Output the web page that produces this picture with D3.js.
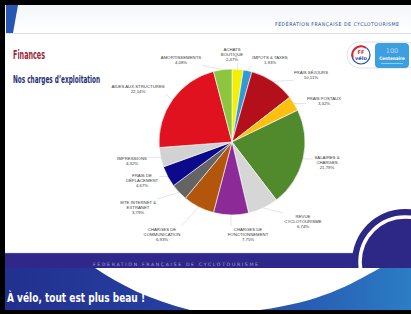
<!DOCTYPE html>
<html>
<head>
<meta charset="utf-8">
<script src="https://cdn.jsdelivr.net/npm/d3@7"></script>
<style>
  html, body { margin: 0; padding: 0; background: #000; }
  svg { display: block; }
</style>
</head>
<body>
<div id="chart"></div>
<script>
// slices, clockwise from 12 o'clock
const categories = [
  "ACHATS\nBOUTIQUE", "IMPOTS & TAXES", "FRAIS SÉJOURS", "FRAIS POSTAUX",
  "SALAIRES &\nCHARGES", "REVUE\nCYCLOTOURISME", "CHARGES DE\nFONCTIONNEMENT",
  "CHARGES DE\nCOMMUNICATION", "SITE INTERNET &\nEXTRANET", "FRAIS DE\nDÉPLACEMENT",
  "IMPRESSIONS", "AIDES AUX STRUCTURES", "AMORTISSEMENTS"
];
const values = [2.47, 1.93, 10.11, 3.32, 21.79, 6.74, 7.75, 6.93, 3.79, 4.67, 4.32, 22.14, 4.08];
const colors = [
  "#f4f000", "#2f9ad6", "#b3101c", "#fdc010", "#51892d", "#d6d6d6", "#8c2a98",
  "#b2560c", "#646464", "#0c0a8a", "#d2d2d2", "#e0121f", "#8cc63e"
];
// where Excel put each label (centre of the first line)
const labelPos = [
  [232, 49], [270, 57], [311, 72], [324, 98], [327, 157], [303, 216], [248, 229],
  [162, 229], [138, 202], [142, 175], [132, 158], [138, 86], [181, 57]
];

const W = 411, H = 314;
const svg = d3.select("#chart").append("svg")
  .attr("width", W).attr("height", H);

const defs = svg.append("defs");
const grad = defs.append("linearGradient").attr("id", "band");
grad.append("stop").attr("offset", "0%").attr("stop-color", "#22308f");
grad.append("stop").attr("offset", "55%").attr("stop-color", "#2645a6");
grad.append("stop").attr("offset", "100%").attr("stop-color", "#2b7dc4");
const hg = defs.append("linearGradient").attr("id", "head").attr("x2", 0).attr("y2", 1);
hg.append("stop").attr("offset", "0%").attr("stop-color", "#f4f6f8");
hg.append("stop").attr("offset", "100%").attr("stop-color", "#ffffff");

// frame + slide
svg.append("rect").attr("width", W).attr("height", H).attr("fill", "#000");
svg.append("rect").attr("x", 5).attr("y", 5).attr("width", W - 5).attr("height", 305).attr("fill", "#fff");
svg.append("rect").attr("x", 5).attr("y", 5).attr("width", W - 5).attr("height", 28).attr("fill", "url(#head)");
svg.append("path").attr("d", "M6,5 L18,5 L13,33 L6,33 Z").attr("fill", "#2757b3");
svg.append("line").attr("x1", 6).attr("x2", W).attr("y1", 33.5).attr("y2", 33.5)
  .attr("stroke", "#dfe2e8").attr("stroke-width", 1);

svg.append("text").attr("x", 275).attr("y", 26)
  .attr("font-family", "DejaVu Sans Condensed").attr("font-size", 5.2)
  .attr("fill", "#2a4b9e").attr("textLength", 124)
  .text("FÉDÉRATION FRANÇAISE DE CYCLOTOURISME");

svg.append("text").attr("x", 13).attr("y", 58.5)
  .attr("font-family", "DejaVu Sans Condensed").attr("font-weight", "bold")
  .attr("font-size", 11.5).attr("fill", "#9e2639")
  .attr("textLength", 32).attr("lengthAdjust", "spacingAndGlyphs")
  .text("Finances");
svg.append("text").attr("x", 13).attr("y", 83)
  .attr("font-family", "DejaVu Sans Condensed").attr("font-weight", "bold")
  .attr("font-size", 10).attr("fill", "#26307a")
  .attr("textLength", 87).attr("lengthAdjust", "spacingAndGlyphs")
  .text("Nos charges d’exploitation");

// logo
const logo = svg.append("g");
logo.append("rect").attr("x", 347).attr("y", 42).attr("width", 72).attr("height", 26).attr("rx", 13)
  .attr("fill", "#fff").attr("stroke", "#d8dbe2").attr("stroke-width", 0.8);
logo.append("circle").attr("cx", 361).attr("cy", 55).attr("r", 9).attr("fill", "#fff")
  .attr("stroke", "#2a4ea8").attr("stroke-width", 1.2);
logo.append("path").attr("d", d3.arc()({innerRadius: 7.6, outerRadius: 9.6, startAngle: -1.9, endAngle: 0.6}))
  .attr("transform", "translate(361,55)").attr("fill", "#d62b2b");
logo.append("text").attr("x", 361).attr("y", 54).attr("text-anchor", "middle")
  .attr("font-family", "DejaVu Sans").attr("font-weight", "bold").attr("font-size", 5)
  .attr("fill", "#d62b2b").text("FF");
logo.append("text").attr("x", 361).attr("y", 59.5).attr("text-anchor", "middle")
  .attr("font-family", "DejaVu Sans").attr("font-weight", "bold").attr("font-size", 5)
  .attr("fill", "#2a4ea8").text("vélo");
logo.append("rect").attr("x", 375).attr("y", 43).attr("width", 34).attr("height", 25).attr("rx", 4)
  .attr("fill", "#3d9fe0");
logo.append("text").attr("x", 392).attr("y", 53).attr("text-anchor", "middle")
  .attr("font-family", "DejaVu Sans").attr("font-size", 6.5).attr("fill", "#cfe6f7")
  .attr("opacity", 0.8).text("100");
logo.append("text").attr("x", 392).attr("y", 60).attr("text-anchor", "middle")
  .attr("font-family", "DejaVu Sans Condensed").attr("font-weight", "bold").attr("font-size", 4.6)
  .attr("fill", "#fff").text("Centenaire");
logo.append("line").attr("x1", 381).attr("x2", 403).attr("y1", 63.5).attr("y2", 63.5)
  .attr("stroke", "#cfe8f8").attr("stroke-width", 0.6);

// pie
const cx = 232, cy = 142, r = 73;
const pie = d3.pie().sort(null).value(d => d);
const arcs = pie(values);
const arc = d3.arc().innerRadius(0).outerRadius(r);
const edge = d3.arc().innerRadius(r).outerRadius(r);

const g = svg.append("g").attr("transform", `translate(${cx},${cy})`);
g.selectAll("path.slice").data(arcs).enter().append("path")
  .attr("class", "slice")
  .attr("d", arc)
  .attr("fill", (d, i) => colors[i])
  .attr("stroke", "#fff").attr("stroke-width", 0.6);

const fmt = v => d3.format(".2f")(v).replace(".", ",") + "%";
const lh = 5.4;
const labels = svg.append("g")
  .attr("font-family", "Liberation Sans, Arial, sans-serif")
  .attr("font-size", 4.3).attr("fill", "#3a3a3a");

arcs.forEach((d, i) => {
  const lines = categories[i].split("\n").concat(fmt(values[i]));
  const [lx, ly] = labelPos[i];
  const t = labels.append("text").attr("text-anchor", "middle");
  lines.forEach((s, k) => {
    t.append("tspan").attr("x", lx).attr("y", ly + 1.5 + k * lh).text(s);
  });
  const bb = t.node().getBBox();
  const [ex, ey] = edge.centroid(d);
  const px = cx + ex, py = cy + ey;
  const qx = Math.max(bb.x - 1, Math.min(px, bb.x + bb.width + 1));
  const qy = Math.max(bb.y - 0.5, Math.min(py, bb.y + bb.height + 0.5));
  labels.insert("line", ":first-child")
    .attr("x1", qx).attr("y1", qy).attr("x2", px).attr("y2", py)
    .attr("stroke", "#c4c8d0").attr("stroke-width", 0.5);
});

// footer
svg.append("rect").attr("x", 5).attr("y", 253).attr("width", W - 5).attr("height", 15).attr("fill", "#30278a");
svg.append("line").attr("x1", 5).attr("x2", W).attr("y1", 253.3).attr("y2", 253.3)
  .attr("stroke", "#6a63b0").attr("stroke-width", 0.6);
svg.append("circle").attr("cx", 405).attr("cy", 262).attr("r", 53).attr("fill", "#2d2786");
svg.append("circle").attr("cx", 405).attr("cy", 262).attr("r", 45).attr("fill", "none")
  .attr("stroke", "#fff").attr("stroke-width", 3.5);
svg.append("text").attr("x", 93).attr("y", 265.5)
  .attr("font-family", "DejaVu Sans").attr("font-size", 4.6)
  .attr("fill", "#a9a4d6").attr("textLength", 165)
  .text("FÉDÉRATION FRANÇAISE DE CYCLOTOURISME");

svg.append("rect").attr("x", 5).attr("y", 268).attr("width", W - 5).attr("height", 42).attr("fill", "url(#band)");
svg.append("path")
  .attr("d", "M95,268 L380,268 C350,285 320,302 260,310 L190,310 C150,300 120,285 95,268 Z")
  .attr("fill", "#fff");
svg.append("text").attr("x", 7).attr("y", 302)
  .attr("font-family", "DejaVu Sans Condensed").attr("font-weight", "bold")
  .attr("font-size", 13).attr("fill", "#fff")
  .attr("textLength", 138).attr("lengthAdjust", "spacingAndGlyphs")
  .text("À vélo, tout est plus beau !");
svg.append("rect").attr("x", 0).attr("y", 310).attr("width", W).attr("height", 4).attr("fill", "#000");
</script>
</body>
</html>
